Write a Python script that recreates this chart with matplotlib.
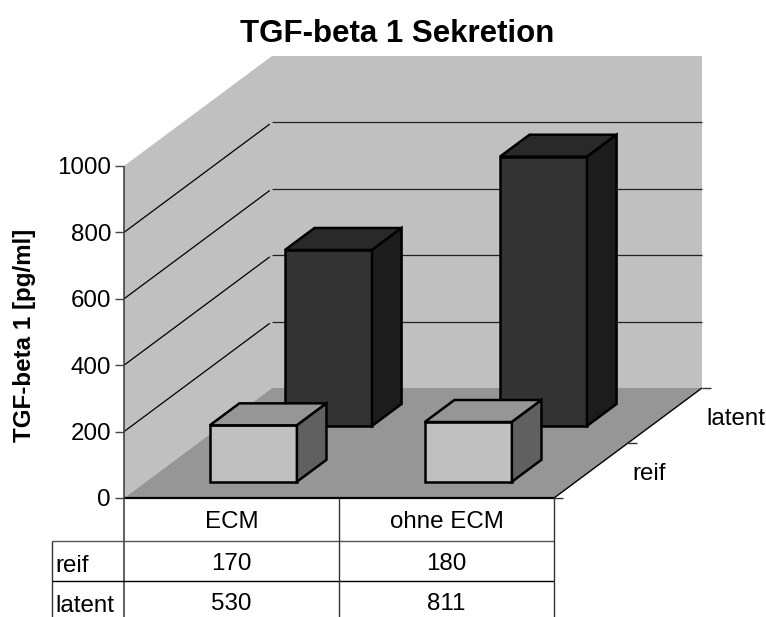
import matplotlib
matplotlib.use("Agg")
import matplotlib.pyplot as plt
from matplotlib.patches import Polygon

categories = ["ECM", "ohne ECM"]
series_names = ["reif", "latent"]
reif = [170, 180]
latent = [530, 811]
y_ticks = [0, 200, 400, 600, 800, 1000]

# projection of the excel style 3d box, all in pixels
X0, Y0 = 124.0, 498.0
CAT_W = 215.0
VAL_H = 0.332
DX, DY = 148.0, -110.0
BAR_W = 0.405
BAR_D = 0.2
FS = 17.4


def project(c, d, v):
    return (X0 + c * CAT_W + d * DX, Y0 - v * VAL_H + d * DY)


def face(ax, pts, color, lw=1.8, edge="black", z=2):
    ax.add_patch(Polygon(pts, closed=True, facecolor=color, edgecolor=edge,
                         linewidth=lw, joinstyle="miter", zorder=z))


def line(ax, p0, p1, color, lw, z=5):
    ax.plot([p0[0], p1[0]], [p0[1], p1[1]], color=color, lw=lw, zorder=z, solid_capstyle="butt")


def draw_bar(ax, cat, depth_center, value, front, top, side, z):
    c0 = cat + 0.5 - BAR_W / 2
    c1 = cat + 0.5 + BAR_W / 2
    d0 = depth_center - BAR_D / 2
    d1 = depth_center + BAR_D / 2
    face(ax, [project(c0, d0, 0), project(c1, d0, 0), project(c1, d0, value), project(c0, d0, value)], front, z=z)
    face(ax, [project(c0, d0, value), project(c1, d0, value), project(c1, d1, value), project(c0, d1, value)], top, z=z)
    face(ax, [project(c1, d0, 0), project(c1, d1, 0), project(c1, d1, value), project(c1, d0, value)], side, z=z)


def main():
    plt.rcParams["font.family"] = ["Liberation Sans", "DejaVu Sans"]
    fig = plt.figure(figsize=(7.66, 6.17), dpi=100)
    ax = fig.add_axes([0, 0, 1, 1])
    ax.set_xlim(0, 766)
    ax.set_ylim(617, 0)
    ax.axis("off")

    top = y_ticks[-1]
    n = len(categories)
    wall = "#c0c0c0"
    floor = "#969696"

    # walls and floor
    face(ax, [project(0, 0, 0), project(0, 1, 0), project(n, 1, 0), project(n, 1, top),
              project(0, 1, top), project(0, 0, top)], wall, lw=0, edge="none", z=0)
    face(ax, [project(0, 0, 0), project(n, 0, 0), project(n, 1, 0), project(0, 1, 0)], floor, lw=0, edge="none", z=1)

    # gridlines
    for v in y_ticks[1:-1]:
        line(ax, project(0, 0, v), project(0, 0.985, v), "black", 0.9, z=1)
        line(ax, project(0, 1, v), project(n, 1, v), "#222222", 0.9, z=1)

    # bars, back row first
    for i in range(n):
        draw_bar(ax, i, 0.755, latent[i], "#333333", "#292929", "#1c1c1c", 3)
    for i in range(n):
        draw_bar(ax, i, 0.2475, reif[i], "#c0c0c0", "#969696", "#606060", 4)

    # floor edges
    a, b, c = project(0, 0, 0), project(n, 0, 0), project(n, 1, 0)
    line(ax, a, b, "black", 1.6)
    line(ax, b, c, "black", 1.0)

    # value axis
    axis_col = "#444444"
    line(ax, project(0, 0, top), (X0, 617), axis_col, 1.2)
    for v in y_ticks:
        y = project(0, 0, v)[1]
        line(ax, (X0 - 9, y), (X0, y), axis_col, 1.0)
        ax.text(X0 - 13, y, str(v), ha="right", va="center_baseline", fontsize=FS)

    # depth axis ticks and labels
    for d in [0, 0.5, 1]:
        x, y = project(n, d, 0)
        line(ax, (x, y), (x + 9, y), "#333333", 1.0)
    for d, name in zip([0.25, 0.75], series_names):
        x, y = project(n, d, 0)
        ax.text(x + 41, y + 1, name, ha="left", va="center_baseline", fontsize=FS)

    # data table
    row_y = [Y0, 541, 581, 617]
    left = 51.5
    right = project(n, 0, 0)[0]
    line(ax, (left, row_y[1]), (right, row_y[1]), "#555555", 1.0)
    line(ax, (left, row_y[2]), (right, row_y[2]), "black", 1.0)
    line(ax, (left, row_y[1]), (left, 617), "#333333", 1.0)
    for i in range(1, n + 1):
        x = X0 + i * CAT_W
        line(ax, (x, Y0), (x, 617), "#333333", 1.0)
    for i in range(n):
        xc = X0 + (i + 0.5) * CAT_W
        ax.text(xc, 519.5, categories[i], ha="center", va="center_baseline", fontsize=FS)
        ax.text(xc, 562, str(reif[i]), ha="center", va="center_baseline", fontsize=FS)
        ax.text(xc, 601.5, str(latent[i]), ha="center", va="center_baseline", fontsize=FS)
    ax.text(55, 564, series_names[0], ha="left", va="center_baseline", fontsize=FS)
    ax.text(55, 604, series_names[1], ha="left", va="center_baseline", fontsize=FS)

    # titles
    ax.text(397.5, 31, "TGF-beta 1 Sekretion", ha="center", va="center_baseline", fontsize=22.5, fontweight="bold")
    ax.text(25, 335, "TGF-beta 1 [pg/ml]", ha="center", va="center", rotation=90, fontsize=FS, fontweight="bold")

    fig.savefig("out.png", dpi=100)


if __name__ == "__main__":
    main()
